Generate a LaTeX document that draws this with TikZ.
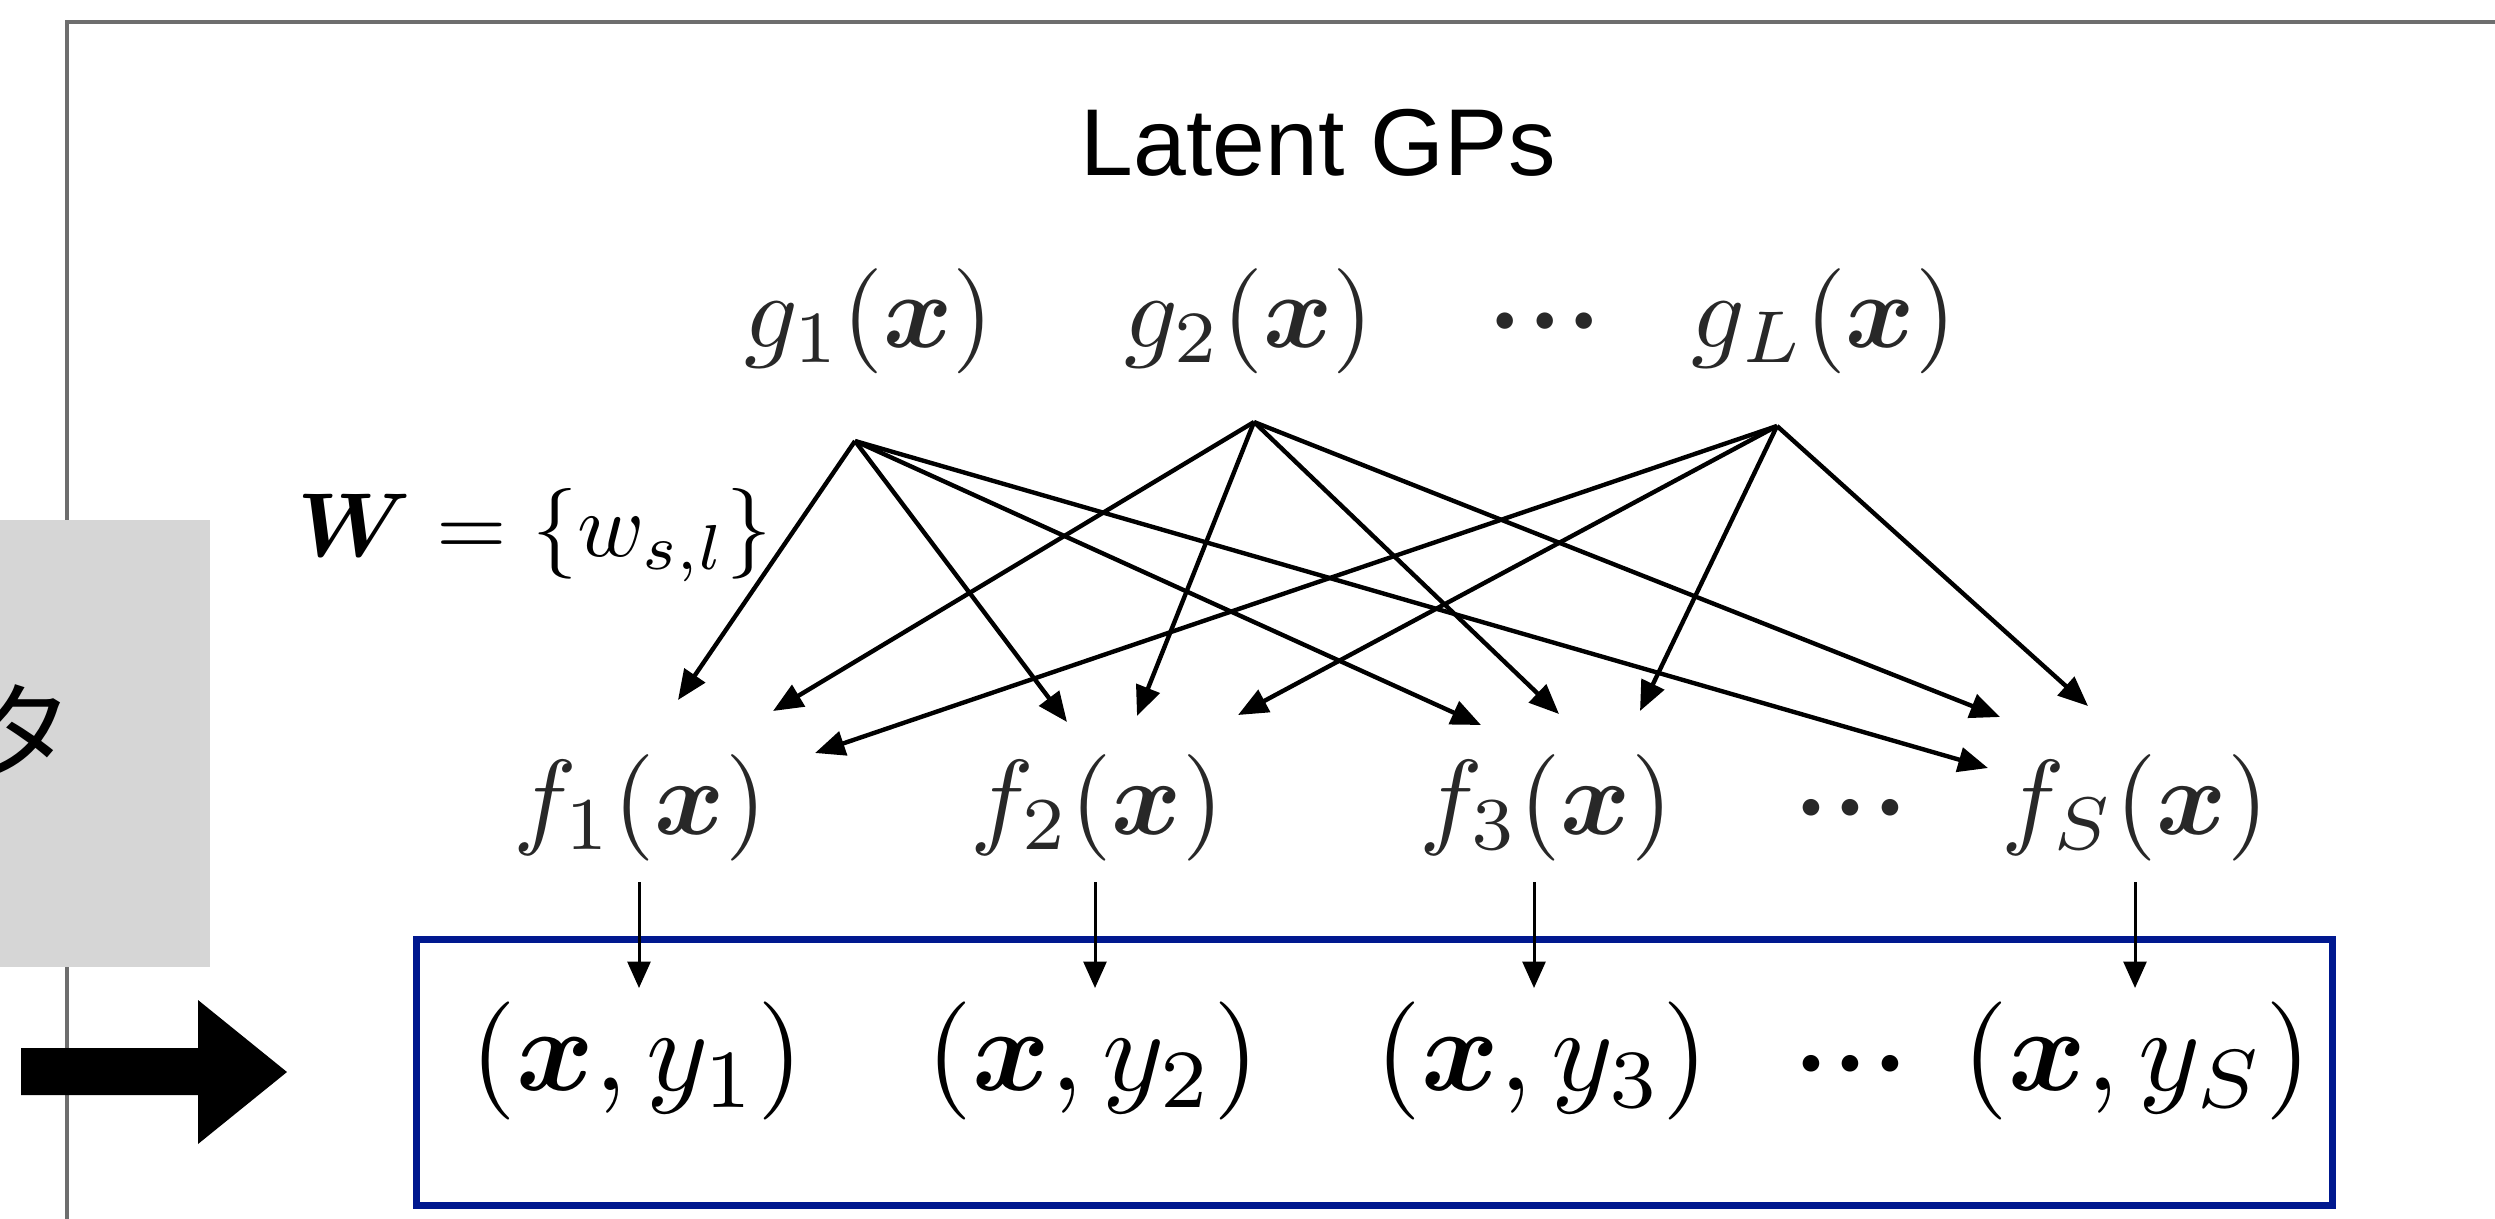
\documentclass[tikz,border=0pt]{standalone}
\usepackage[no-math]{fontspec}
\usepackage{amsmath,bm}
\newfontfamily\labelsans{Liberation Sans}
\newfontfamily\jpfont{Noto Sans CJK JP}
\usetikzlibrary{arrows.meta}
\definecolor{framegray}{RGB}{110,110,110}
\definecolor{boxgray}{RGB}{214,214,214}
\definecolor{obsblue}{RGB}{0,24,143}
\definecolor{mathgray}{RGB}{40,40,40}
\newcommand{\bigmath}[2]{\scalebox{#1}{$#2$}}
\newcommand{\tdots}{\mathord{\bm{\cdot}}\mkern1mu\mathord{\bm{\cdot}}\mkern1mu\mathord{\bm{\cdot}}}
\begin{document}
\begin{tikzpicture}[x=0.01cm,y=-0.01cm,
  mrow/.style={inner sep=0pt,anchor=base,text=mathgray,font=\fontsize{10}{12}\selectfont},
  drow/.style={inner sep=0pt,anchor=base,font=\fontsize{10}{12}\selectfont},
  wedge/.style={line width=1.25pt,-{Triangle[length=8.5pt,width=7pt]}},
  vedge/.style={line width=0.85pt,-{Triangle[length=7.5pt,width=6.5pt]}}]
\useasboundingbox (0,0) rectangle (2495,1218);
\clip (0,0) rectangle (2495,1218);
% outer frame (continues beyond the picture)
\draw[framegray,line width=1.1pt] (67,1300) -- (67,22) -- (2600,22);
% grey box with cut-off text
\fill[boxgray] (-20,520) rectangle (210,967);
\node[inner sep=0pt,font=\jpfont\fontsize{30}{36}\selectfont] (tlabel) at (21,730) {タ};
% thick block arrow
\fill[black] (21,1048) -- (198,1048) -- (198,1000) -- (287,1072) -- (198,1144) -- (198,1095) -- (21,1095) -- cycle;
% observation box
\draw[obsblue,line width=2pt] (416.5,939) rectangle (2332,1205);
% title
\node[inner sep=0pt,anchor=base west,font=\labelsans\fontsize{27}{32}\selectfont] (title) at (1080,175) {Latent GPs};
% latent GPs
\node[mrow] (g1) at (869,347) {\bigmath{2.99}{g_1(\bm{x})}};
\node[mrow] (g2) at (1249,347) {\bigmath{2.99}{g_2(\bm{x})}};
\node[mrow] (gd) at (1545,347) {\bigmath{2.99}{\tdots}};
\node[mrow] (gL) at (1824,347) {\bigmath{2.99}{g_L(\bm{x})}};
% weights
\node[inner sep=0pt,anchor=base west,font=\fontsize{10}{12}\selectfont] (W) at (297,556) {\bigmath{2.58}{\bm{W}=\{w_{s,l}\}}};
% outputs
\node[mrow] (f1) at (640,834) {\bigmath{3.03}{f_1(\bm{x})}};
\node[mrow] (f2) at (1097,834) {\bigmath{3.03}{f_2(\bm{x})}};
\node[mrow] (f3) at (1546,834) {\bigmath{3.03}{f_3(\bm{x})}};
\node[mrow] (fd) at (1851,834) {\bigmath{3.03}{\tdots}};
\node[mrow] (fS) at (2135,834) {\bigmath{3.03}{f_S(\bm{x})}};
% data
\node[drow] (d1) at (637,1090) {\bigmath{3.36}{(\bm{x},y_1)}};
\node[drow] (d2) at (1093,1090) {\bigmath{3.36}{(\bm{x},y_2)}};
\node[drow] (d3) at (1542,1090) {\bigmath{3.36}{(\bm{x},y_3)}};
\node[drow] (dd) at (1851,1090) {\bigmath{3.03}{\tdots}};
\node[drow] (dS) at (2137,1090) {\bigmath{3.36}{(\bm{x},y_S)}};
% connector ends
\coordinate (g1s) at (855,441);
\coordinate (g2s) at (1254,422);
\coordinate (gLs) at (1777,426);
\coordinate (f1a) at (678,700);
\coordinate (f1b) at (773,711);
\coordinate (f1c) at (815,753);
\coordinate (f2a) at (1067,722);
\coordinate (f2b) at (1137,716);
\coordinate (f2c) at (1238,715);
\coordinate (f3a) at (1481,725);
\coordinate (f3b) at (1559,714);
\coordinate (f3c) at (1640,711);
\coordinate (fSa) at (1988,768);
\coordinate (fSb) at (2000,717);
\coordinate (fSc) at (2088,706);
\foreach \t in {f1a,f2a,f3a,fSa} \draw[wedge] (g1s) -- (\t);
\foreach \t in {f1b,f2b,f3b,fSb} \draw[wedge] (g2s) -- (\t);
\foreach \t in {f1c,f2c,f3c,fSc} \draw[wedge] (gLs) -- (\t);
\coordinate (f1o) at (639,882);  \coordinate (d1i) at (639,988);
\coordinate (f2o) at (1095,882); \coordinate (d2i) at (1095,988);
\coordinate (f3o) at (1534,882); \coordinate (d3i) at (1534,988);
\coordinate (fSo) at (2135,882); \coordinate (dSi) at (2135,988);
\draw[vedge] (f1o) -- (d1i);
\draw[vedge] (f2o) -- (d2i);
\draw[vedge] (f3o) -- (d3i);
\draw[vedge] (fSo) -- (dSi);
\end{tikzpicture}
\end{document}
